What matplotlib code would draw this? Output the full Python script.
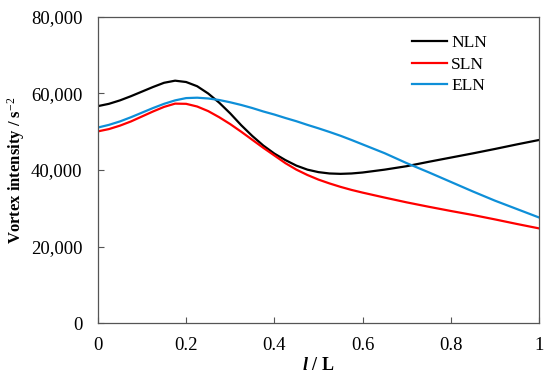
import matplotlib.pyplot as plt
from matplotlib.ticker import FuncFormatter

plt.rcParams['font.family'] = ['Liberation Serif', 'DejaVu Serif']
plt.rcParams['mathtext.fontset'] = 'custom'
plt.rcParams['mathtext.rm'] = 'Liberation Serif'
plt.rcParams['mathtext.it'] = 'Liberation Serif:italic'
plt.rcParams['mathtext.bf'] = 'Liberation Serif:bold'
plt.rcParams['mathtext.bfit'] = 'Liberation Serif:italic:bold'

# position along the blade, l / L
x = [0, 0.025, 0.05, 0.075, 0.10, 0.125, 0.15, 0.175, 0.20, 0.225, 0.25,
     0.275, 0.30, 0.325, 0.35, 0.375, 0.40, 0.425, 0.45, 0.475, 0.50,
     0.525, 0.55, 0.575, 0.60, 0.65, 0.70, 0.75, 0.80, 0.85, 0.90, 0.95, 1.00]

# vortex intensity, s^-2
nln = [56700, 57300, 58200, 59300, 60500, 61700, 62800, 63350, 63000, 61900, 60000,
       57600, 54800, 51700, 48900, 46400, 44300, 42600, 41150, 40100, 39450,
       39100, 39000, 39100, 39350, 40100, 41000, 42150, 43250, 44350, 45500, 46700, 47850]
sln = [50100, 50700, 51600, 52700, 54000, 55300, 56500, 57350, 57300, 56600, 55400,
       53800, 52000, 50000, 47900, 45800, 43800, 41800, 40100, 38700, 37500,
       36500, 35600, 34800, 34100, 32800, 31550, 30400, 29300, 28250, 27100, 25900, 24750]
eln = [51100, 51800, 52700, 53800, 55000, 56200, 57300, 58200, 58800, 58900, 58700,
       58300, 57700, 57000, 56200, 55300, 54500, 53600, 52750, 51800, 50900,
       49950, 48950, 47850, 46700, 44400, 41800, 39400, 36900, 34400, 32000, 29800, 27600]

labels = ['NLN', 'SLN', 'ELN']
colors = ['black', '#ff0000', '#0e8fd8']

fig = plt.figure(figsize=(5.5, 3.77), dpi=100)
ax = fig.add_axes([0.178, 0.143, 0.802, 0.812])

for ys, lab, c in zip([nln, sln, eln], labels, colors):
    ax.plot(x, ys, color=c, lw=1.6, label=lab)

ax.set_xlim(0, 1)
ax.set_ylim(0, 80000)
ax.set_xticks([0, 0.2, 0.4, 0.6, 0.8, 1.0])
ax.set_yticks([0, 20000, 40000, 60000, 80000])
ax.xaxis.set_major_formatter(FuncFormatter(lambda v, p: '%g' % v))
ax.yaxis.set_major_formatter(FuncFormatter(lambda v, p: '{:,.0f}'.format(v)))
ax.tick_params(direction='in', length=4, width=0.8, color='#555555', labelsize=13.5)
ax.tick_params(axis='y', pad=11)
ax.tick_params(axis='x', pad=10)
for s in ax.spines.values():
    s.set_color('#555555')
    s.set_linewidth(0.9)

ax.set_xlabel(r'$\mathbfit{l}$ / L', fontsize=13, fontweight='bold', labelpad=2)
ax.set_ylabel('Vortex intensity / s$^{-2}$', fontsize=12, fontweight='bold', labelpad=3)

ax.legend(loc='upper right', frameon=False, fontsize=12.5, handlelength=2.0,
          handletextpad=0.25, labelspacing=0.3, borderaxespad=0.3,
          bbox_to_anchor=(0.91, 0.98))

fig.savefig('out.png', dpi=100)
